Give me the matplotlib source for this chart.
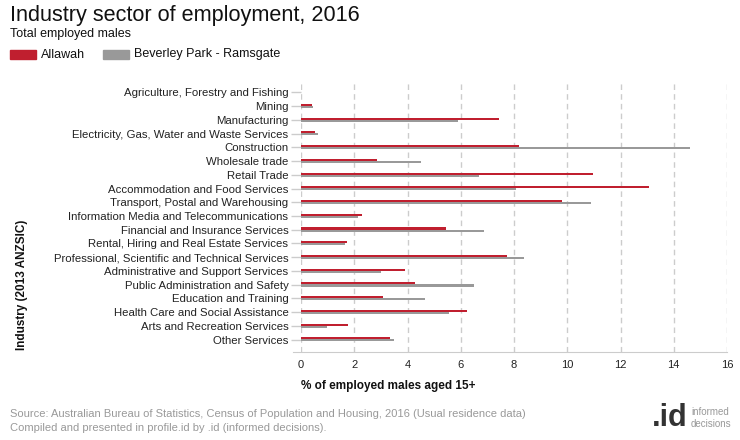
import matplotlib
matplotlib.use("Agg")
import matplotlib.pyplot as plt
import numpy as np

plt.rcParams['font.family'] = ['Liberation Sans', 'DejaVu Sans']

categories = [
    "Agriculture, Forestry and Fishing",
    "Mining",
    "Manufacturing",
    "Electricity, Gas, Water and Waste Services",
    "Construction",
    "Wholesale trade",
    "Retail Trade",
    "Accommodation and Food Services",
    "Transport, Postal and Warehousing",
    "Information Media and Telecommunications",
    "Financial and Insurance Services",
    "Rental, Hiring and Real Estate Services",
    "Professional, Scientific and Technical Services",
    "Administrative and Support Services",
    "Public Administration and Safety",
    "Education and Training",
    "Health Care and Social Assistance",
    "Arts and Recreation Services",
    "Other Services",
]
allawah = [0.0, 0.42, 7.42, 0.54, 8.17, 2.87, 10.95, 13.06, 9.82, 2.30,
           5.43, 1.74, 7.72, 3.92, 4.30, 3.09, 6.25, 1.78, 3.36]
beverley = [0.0, 0.46, 5.88, 0.65, 14.6, 4.52, 6.70, 8.06, 10.91, 2.15,
            6.86, 1.66, 8.38, 3.02, 6.51, 4.67, 5.54, 0.99, 3.51]
series_names = ["Allawah", "Beverley Park - Ramsgate"]
xticks = [0, 2, 4, 6, 8, 10, 12, 14, 16]

RED = "#C01F2F"
GRAY = "#999999"

W, H = 740, 440
fig = plt.figure(figsize=(W / 100, H / 100), dpi=100)
ax = fig.add_axes([301 / W, 1 - 352 / H, 426 / W, 272 / H])

y = np.arange(len(categories))
ax.barh(y - 0.09, allawah, height=0.15, color=RED, zorder=3)
ax.barh(y + 0.06, beverley, height=0.15, color=GRAY, zorder=3)

ax.set_ylim(len(categories) - 1 + 0.9, -0.9)
ax.set_xlim(0, 16)
ax.set_xticks(xticks)
ax.set_xticklabels([str(t) for t in xticks], fontsize=8, color="#222222")
ax.set_yticks(y)
ax.set_yticklabels(categories, fontsize=8.2, color="#222222")

ax.grid(axis="x", color="#cccccc", linestyle=(0, (4, 3)), linewidth=1, zorder=0)
for s in ["top", "right", "left"]:
    ax.spines[s].set_visible(False)
ax.spines["bottom"].set_color("#cccccc")
ax.spines["bottom"].set_bounds(-0.3, 16)
ax.tick_params(axis="y", length=7, color="#cccccc", width=1, pad=2)
ax.tick_params(axis="x", length=0, pad=6)

fig.text(10 / W, 1 - 15 / H, "Industry sector of employment, 2016", fontsize=15.6,
         ha="left", va="center", color="#111111")
fig.text(10 / W, 1 - 34 / H, "Total employed males", fontsize=9,
         ha="left", va="center", color="#111111")

# legend
fig.patches.append(plt.Rectangle((10 / W, 1 - 59 / H), 26 / W, 9 / H,
                                 transform=fig.transFigure, color=RED))
fig.text(41 / W, 1 - 54.5 / H, series_names[0], fontsize=9, ha="left", va="center", color="#111111")
fig.patches.append(plt.Rectangle((103 / W, 1 - 59 / H), 26 / W, 9 / H,
                                 transform=fig.transFigure, color=GRAY))
fig.text(134 / W, 1 - 54.5 / H, series_names[1], fontsize=9, ha="left", va="center", color="#111111")

fig.text(301 / W, 1 - 386 / H, "% of employed males aged 15+", fontsize=8.5,
         fontweight="bold", ha="left", va="center", color="#111111")
fig.text(22 / W, 1 - 285 / H, "Industry (2013 ANZSIC)", fontsize=8.5, rotation=90,
         fontweight="bold", ha="center", va="center", color="#111111")

fig.text(10 / W, 1 - 414 / H,
         "Source: Australian Bureau of Statistics, Census of Population and Housing, 2016 (Usual residence data)",
         fontsize=8, color="#999999", ha="left", va="center")
fig.text(10 / W, 1 - 428 / H,
         "Compiled and presented in profile.id by .id (informed decisions).",
         fontsize=8, color="#999999", ha="left", va="center")

fig.text(688 / W, 1 - 418 / H, ".id", fontsize=22, fontweight="bold", color="#333333",
         ha="right", va="center")
fig.text(691 / W, 1 - 412 / H, "informed", fontsize=7, color="#999999", ha="left", va="center")
fig.text(691 / W, 1 - 424 / H, "decisions", fontsize=7, color="#999999", ha="left", va="center")

fig.savefig("out.png", dpi=100)
